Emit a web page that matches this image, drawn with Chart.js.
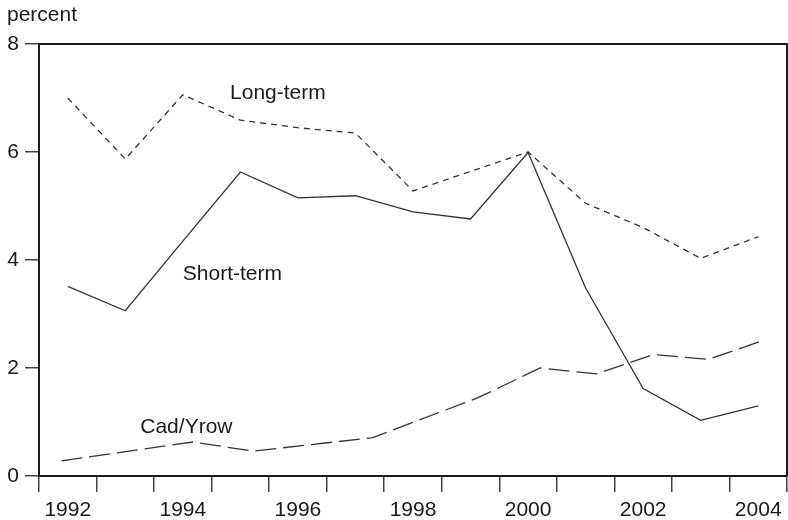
<!DOCTYPE html>
<html>
<head>
<meta charset="utf-8">
<script src="https://cdn.jsdelivr.net/npm/chart.js@4.4.1/dist/chart.umd.min.js"></script>
<style>
  html, body { margin: 0; padding: 0; background: #fff; }
  #wrap { width: 788px; height: 520px; }
</style>
</head>
<body>
<div id="wrap"><canvas id="rateChart" width="788" height="520"></canvas></div>
<script>
// Interest rates, percent
const years = [1992, 1993, 1994, 1995, 1996, 1997, 1998, 1999, 2000, 2001, 2002, 2003, 2004];
const shortTerm = [3.51, 3.06, 4.35, 5.63, 5.15, 5.19, 4.89, 4.76, 5.99, 3.48, 1.62, 1.03, 1.30];
const longTerm = [7.00, 5.87, 7.06, 6.59, 6.45, 6.35, 5.28, 5.64, 6.00, 5.05, 4.60, 4.03, 4.43];

// Cad/Yrow is sampled at its own dates
const cadYears = [1991.89, 1994.18, 1995.22, 1997.30, 1999.13, 2000.21, 2001.19, 2002.18, 2003.13, 2004.06];
const cadYrow = [0.28, 0.63, 0.46, 0.71, 1.45, 2.00, 1.89, 2.25, 2.16, 2.50];

const yTicks = [0, 2, 4, 6, 8];
const yearLabels = ["1992", "1994", "1996", "1998", "2000", "2002", "2004"];

// series names written next to the lines: [text, year, value]
const seriesNotes = [
  ["Long-term", 1994.82, 7.09],
  ["Short-term", 1994.0, 3.74],
  ["Cad/Yrow", 1993.26, 0.91]
];

const FONT = "'Liberation Sans', Arial, Helvetica, sans-serif";
const INK = "#1a1a1a";

function points(xs, ys) {
  return xs.map((x, i) => ({ x: x, y: ys[i] }));
}

const lineStyle = {
  borderColor: "#333",
  borderWidth: 1.3,
  pointRadius: 0,
  tension: 0,
  fill: false
};

// frame, unit caption and series names
const notesPlugin = {
  id: "notes",
  afterDraw(chart) {
    const { ctx, chartArea, scales } = chart;
    ctx.save();
    ctx.strokeStyle = INK;
    ctx.lineWidth = 2;
    ctx.beginPath();
    ctx.moveTo(chartArea.left, chartArea.top);
    ctx.lineTo(chartArea.right, chartArea.top);
    ctx.lineTo(chartArea.right, chartArea.bottom);
    ctx.stroke();

    ctx.fillStyle = INK;
    ctx.font = "21px " + FONT;
    ctx.textBaseline = "middle";
    ctx.textAlign = "left";
    ctx.fillText("percent", 7, 15);

    seriesNotes.forEach(([text, x, y]) => {
      ctx.fillText(text, scales.x.getPixelForValue(x), scales.y.getPixelForValue(y));
    });
    ctx.restore();
  }
};

new Chart(document.getElementById("rateChart"), {
  type: "line",
  data: {
    datasets: [
      Object.assign({ label: "Long-term", data: points(years, longTerm), borderDash: [6, 5] }, lineStyle),
      Object.assign({ label: "Short-term", data: points(years, shortTerm) }, lineStyle),
      Object.assign({ label: "Cad/Yrow", data: points(cadYears, cadYrow), borderDash: [21, 7] }, lineStyle)
    ]
  },
  options: {
    responsive: false,
    animation: false,
    layout: { padding: { top: 44, right: 1, left: 0, bottom: 0 } },
    plugins: {
      legend: { display: false },
      tooltip: { enabled: false }
    },
    scales: {
      x: {
        type: "linear",
        min: 1991.5,
        max: 2004.5,
        afterBuildTicks(scale) {
          // tick marks sit on year boundaries, labels in the middle of each year
          const ticks = [];
          for (let v = 1991.5; v <= 2004.5; v += 1) ticks.push({ value: v });
          scale.ticks = ticks;
        },
        afterFit(scale) {
          scale.height = 44;
          scale.paddingLeft = 0;
          scale.paddingRight = 0;
        },
        grid: {
          drawOnChartArea: false,
          tickLength: 16,
          color: "#444",
          lineWidth: 1.5
        },
        border: { display: true, color: INK, width: 2 },
        ticks: {
          autoSkip: false,
          maxRotation: 0,
          labelOffset: 28.77,
          padding: 6,
          color: INK,
          font: { family: FONT, size: 21 },
          callback(value) {
            const label = String(Math.round(value + 0.5));
            return yearLabels.includes(label) ? label : "";
          }
        }
      },
      y: {
        min: 0,
        max: 8,
        afterBuildTicks(scale) {
          scale.ticks = yTicks.map(v => ({ value: v }));
        },
        afterFit(scale) { scale.width = 39; },
        grid: {
          drawOnChartArea: false,
          tickLength: 14,
          color: "#444",
          lineWidth: 1.5
        },
        border: { display: true, color: INK, width: 2 },
        ticks: {
          padding: 6,
          color: INK,
          font: { family: FONT, size: 21 }
        }
      }
    }
  },
  plugins: [notesPlugin]
});
</script>
</body>
</html>
